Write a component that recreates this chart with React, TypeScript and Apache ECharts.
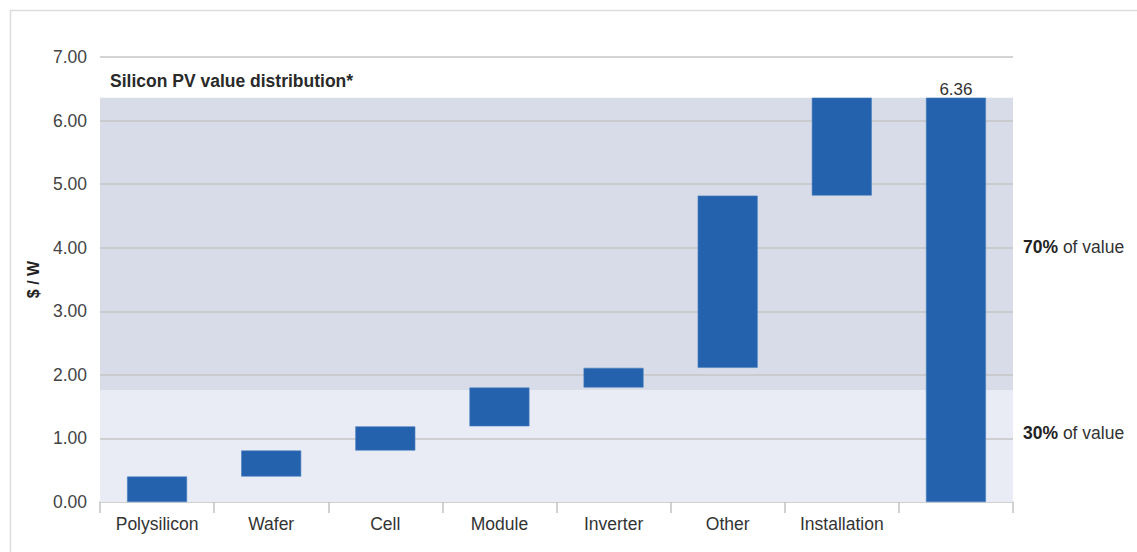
import React, { useEffect, useRef } from "react";
import * as echarts from "echarts";

const categories = ["Polysilicon", "Wafer", "Cell", "Module", "Inverter", "Other", "Installation", ""];
const barStarts = [0, 0.40, 0.81, 1.19, 1.80, 2.11, 4.82, 0];
const barEnds = [0.40, 0.81, 1.19, 1.80, 2.11, 4.82, 6.36, 6.36];
const totalLabel = "6.36";
const yTicks = [0, 1, 2, 3, 4, 5, 6, 7];
const lowBand = [0, 1.76];
const highBand = [1.76, 6.36];
const bandLabels = ["70%", "30%"];

export default function App() {
  const ref = useRef<HTMLDivElement>(null);
  useEffect(() => {
    document.body.style.margin = "0";
    const chart = echarts.init(ref.current!, null, { renderer: "svg" });
    const deltas = barEnds.map((e, i) => +(e - barStarts[i]).toFixed(2));
    const font = "'Liberation Sans', Arial, Helvetica, sans-serif";
    chart.setOption({
      animation: false,
      textStyle: { fontFamily: font },
      title: {
        text: "Silicon PV value distribution*",
        left: 105,
        top: 67,
        textStyle: { fontSize: 17.5, fontWeight: "bold", color: "#2a2a2a", fontFamily: font },
      },
      grid: { left: 100, right: 124, top: 57, bottom: 50, containLabel: false },
      xAxis: {
        type: "category",
        data: categories,
        axisLine: { lineStyle: { color: "#c2c2c2", width: 1.5 } },
        axisTick: { show: true, length: 11, lineStyle: { color: "#c2c2c2", width: 1.5 } },
        axisLabel: { color: "#333", fontSize: 17.5, margin: 13, fontFamily: font },
        splitLine: { show: false },
      },
      yAxis: {
        type: "value",
        min: 0,
        max: 7,
        interval: 1,
        name: "$ / W",
        nameLocation: "middle",
        nameGap: 59,
        nameRotate: 90,
        nameTextStyle: { fontSize: 16, fontWeight: "bold", color: "#222", fontFamily: font },
        axisLine: { show: false },
        axisTick: { show: false },
        axisLabel: { color: "#444", fontSize: 17.5, margin: 13, formatter: (v: number) => v.toFixed(2), fontFamily: font },
        splitLine: { show: false },
      },
      series: [
        {
          name: "bands",
          type: "line",
          data: categories.map(() => null),
          showSymbol: false,
          silent: true,
          z: 1,
          markArea: {
            silent: true,
            z: 1,
            label: { show: false },
            data: [
              [{ yAxis: lowBand[0], itemStyle: { color: "#e9ecf5" } }, { yAxis: lowBand[1] }],
              [{ yAxis: highBand[0], itemStyle: { color: "#d8dce8" } }, { yAxis: highBand[1] }],
            ],
          },
        },
        {
          name: "grid",
          type: "line",
          data: categories.map(() => null),
          showSymbol: false,
          silent: true,
          z: 1.5,
          markLine: {
            silent: true,
            z: 1.5,
            symbol: "none",
            label: { show: false },
            lineStyle: { color: "#c6c6c6", width: 1.5, type: "solid" },
            data: yTicks.filter((t) => t > 0).map((t) => ({ yAxis: t })),
          },
        },
        {
          name: "base",
          type: "bar",
          stack: "w",
          data: barStarts,
          barWidth: 60,
          itemStyle: { color: "transparent" },
          silent: true,
          z: 2,
        },
        {
          name: "value",
          type: "bar",
          stack: "w",
          data: deltas.map((d, i) =>
            i === deltas.length - 1
              ? { value: d, label: { show: true, position: "top", formatter: totalLabel, color: "#333", fontSize: 17, distance: 0, fontFamily: font } }
              : d
          ),
          barWidth: 60,
          itemStyle: { color: "#2462ae", borderColor: "#4a7fc0", borderWidth: 0.6 },
          z: 3,
        },
      ],
      graphic: [
        { type: "line", shape: { x1: 10, y1: 10.5, x2: 1137, y2: 10.5 }, style: { stroke: "#dcdcdc", lineWidth: 1.5 }, silent: true },
        { type: "line", shape: { x1: 10.5, y1: 10, x2: 10.5, y2: 552 }, style: { stroke: "#dcdcdc", lineWidth: 1.5 }, silent: true },
        {
          type: "text",
          left: 1023,
          top: 238,
          style: {
            text: "{b|" + bandLabels[0] + "} of value",
            rich: { b: { fontWeight: "bold", fontSize: 17.5, fill: "#222", fontFamily: font } },
            fontSize: 17.5,
            fill: "#333",
            fontFamily: font,
          },
        },
        {
          type: "text",
          left: 1023,
          top: 424,
          style: {
            text: "{b|" + bandLabels[1] + "} of value",
            rich: { b: { fontWeight: "bold", fontSize: 17.5, fill: "#222", fontFamily: font } },
            fontSize: 17.5,
            fill: "#333",
            fontFamily: font,
          },
        },
      ],
    });
    return () => chart.dispose();
  }, []);
  return <div ref={ref} style={{ width: 1137, height: 552 }} />;
}
